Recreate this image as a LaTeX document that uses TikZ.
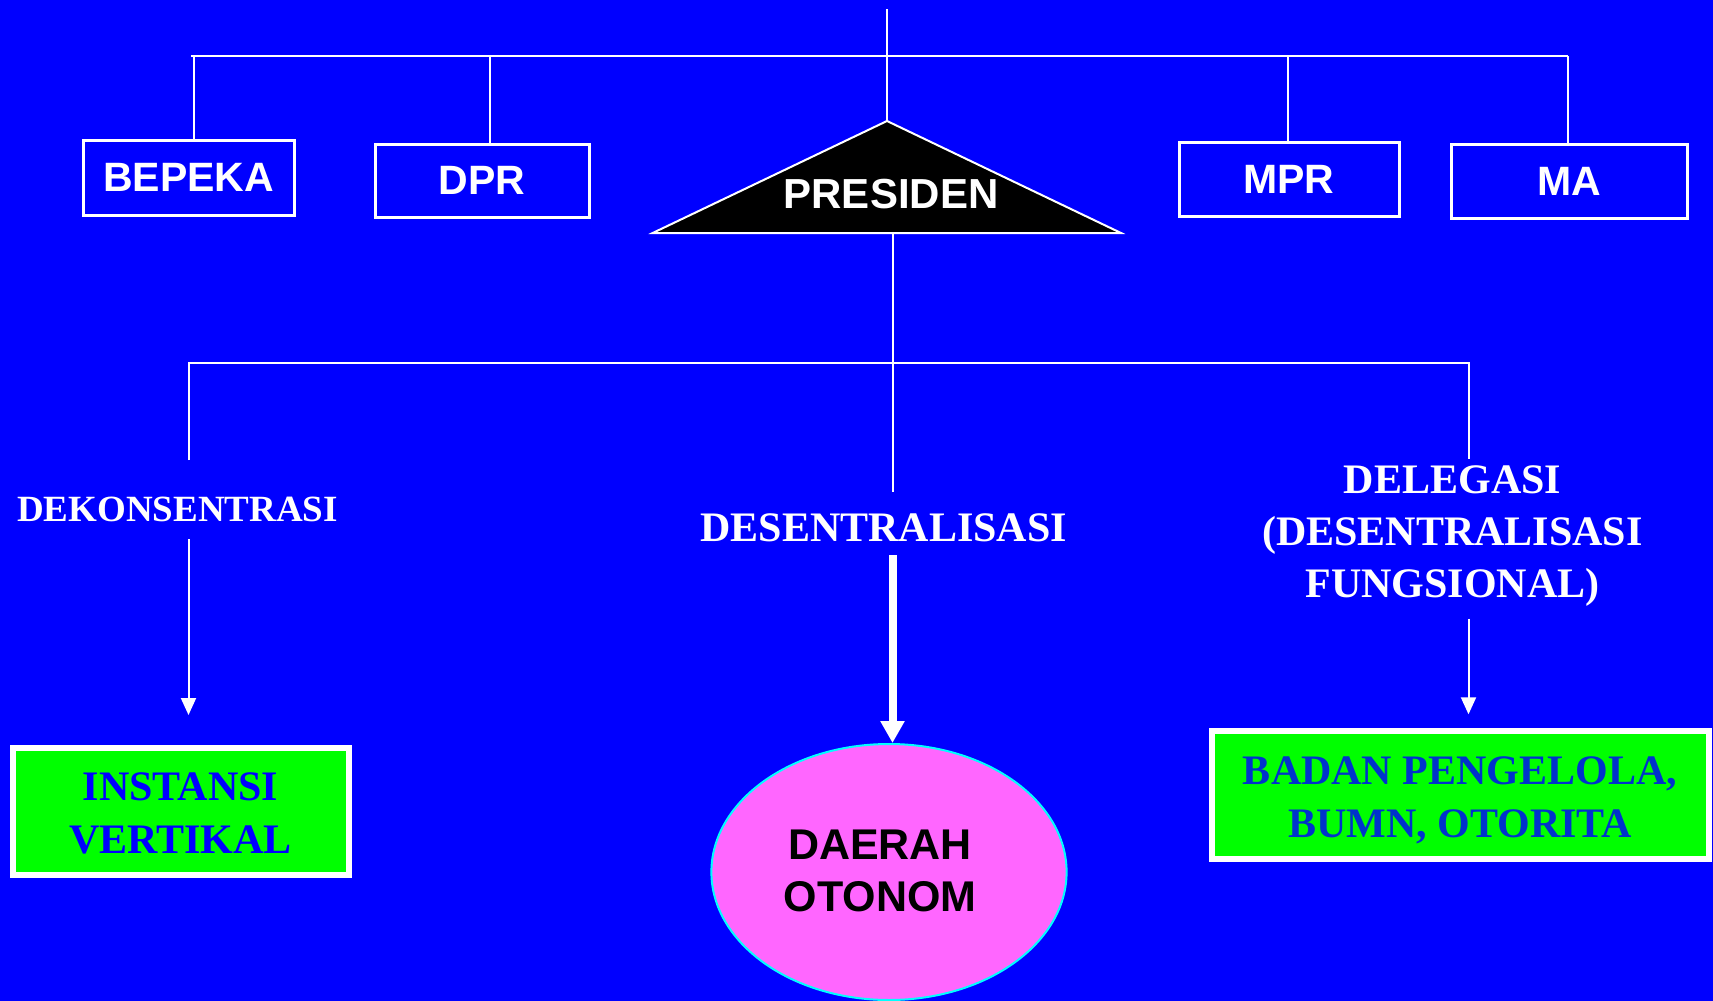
\documentclass[tikz,border=0pt]{standalone}
\usepackage{fontspec}
\setmainfont{Liberation Serif}
\newfontfamily\arialf{Liberation Sans}
\usetikzlibrary{arrows.meta,shapes.geometric}
\definecolor{bgblue}{RGB}{0,0,255}
\definecolor{boxgreen}{RGB}{0,255,0}
\definecolor{ovalpink}{RGB}{255,102,255}
\definecolor{ovalcyan}{RGB}{0,255,255}
\definecolor{darkbluetext}{RGB}{0,51,204}
\tikzset{
  wline/.style={draw=white,line width=1pt},
  warrow/.style={draw=white,line width=1pt,-{Triangle[width=7.5pt,length=8.5pt]}},
  bigarrow/.style={draw=white,line width=4pt,-{Triangle[width=11.5pt,length=11pt]}},
  topbox/.style={draw=white,line width=1.5pt,inner sep=0pt,text=white,
    font=\arialf\bfseries\fontsize{20.5}{25}\selectfont},
  greenbox/.style={draw=white,fill=boxgreen,line width=3pt,inner sep=0pt},
  greentext/.style={inner sep=0pt,anchor=north,align=center,
    font=\bfseries\fontsize{21}{26.5}\selectfont},
  lbl/.style={text=white,inner sep=0pt,font=\bfseries\fontsize{21}{26}\selectfont,align=center}
}
\begin{document}
\begin{tikzpicture}[x=0.5pt,y=-0.5pt]
\fill[bgblue] (0,0) rectangle (1713,1001);
\useasboundingbox (0,0) rectangle (1713,1001);

% top boxes
\node[topbox,minimum width=105.5pt,minimum height=37.5pt] (bepeka) at (188.5,177.5) {BEPEKA};
\node[topbox,minimum width=107pt,minimum height=36.5pt] (dpr) at (482,180.5) {DPR};
\node[topbox,minimum width=110pt,minimum height=37pt] (mpr) at (1289,179) {MPR};
\node[topbox,minimum width=117.7pt,minimum height=37pt] (ma) at (1569.3,181) {MA};

% president triangle
\coordinate (apex) at (887,121);
\coordinate (trL) at (652.7,233);
\coordinate (trR) at (1121,233);
\filldraw[fill=black,draw=white,line width=1pt] (apex) -- (trL) -- (trR) -- cycle;
\node[text=white,inner sep=0pt,anchor=base,font=\arialf\bfseries\fontsize{21}{25}\selectfont] (pres) at (891,208) {PRESIDEN};

% top connector bar
\coordinate (stemtop) at (887,9);
\coordinate (barL) at (191,56);
\coordinate (barR) at (1568,56);
\coordinate (b1) at (194,56);
\coordinate (b2) at (490,56);
\coordinate (b3) at (1287.6,56);
\coordinate (b4) at (1567.7,56);
\draw[wline] (stemtop) -- (apex);
\draw[wline] (barL) -- (barR);
\draw[wline] (b1) -- (bepeka.north -| b1);
\draw[wline] (b2) -- (dpr.north -| b2);
\draw[wline] (b3) -- (mpr.north -| b3);
\draw[wline] (b4) -- (ma.north -| b4);

% lower tree
\coordinate (trbase) at (892.6,233);
\coordinate (stemend) at (892.6,491.6);
\coordinate (hL) at (188.5,363);
\coordinate (hR) at (1468.5,363);
\coordinate (dekTop) at (188.5,460);
\coordinate (delTop) at (1468.5,458.7);
\draw[wline] (trbase) -- (stemend);
\draw[wline] (dekTop) -- (hL) -- (hR) -- (delTop);

% labels
\node[lbl,anchor=base,font=\bfseries\fontsize{18.5}{22}\selectfont] (dekon) at (177.5,521.4) {DEKONSENTRASI};
\node[lbl,anchor=base] (desen) at (883.6,541.7) {DESENTRALISASI};
\node[lbl,anchor=north] (deleg) at (1452.5,465) {DELEGASI\\(DESENTRALISASI\\FUNGSIONAL)};

% targets
\node[greenbox,minimum width=168pt,minimum height=63.75pt] (inst) at (180.5,811.25) {};
\node[greentext,text=bgblue] (instT) at (180.5,772) {INSTANSI\\VERTIKAL};
\node[greenbox,minimum width=248.25pt,minimum height=64pt] (badan) at (1460.25,795) {};
\node[greentext,text=darkbluetext] (badanT) at (1460,756) {BADAN PENGELOLA,\\BUMN, OTORITA};
\node[ellipse,draw=ovalcyan,line width=1pt,fill=ovalpink,minimum width=177.6pt,minimum height=128pt,
  inner sep=0pt] (daerah) at (889,872) {};
\node[inner sep=0pt,anchor=north,align=center,font=\arialf\bfseries\fontsize{21.5}{25.75}\selectfont] (daerahT) at (880,830) {DAERAH\\OTONOM};

% arrows
\coordinate (dekBot) at (188.5,539);
\coordinate (dekTip) at (188.5,715);
\coordinate (desBot) at (892.5,555);
\coordinate (delBot) at (1468.5,618.6);
\coordinate (delTip) at (1468.5,714.3);
\draw[warrow] (dekBot) -- (dekTip);
\draw[bigarrow] (desBot) -- (desBot |- daerah.north);
\draw[warrow] (delBot) -- (delTip);
\end{tikzpicture}
\end{document}
